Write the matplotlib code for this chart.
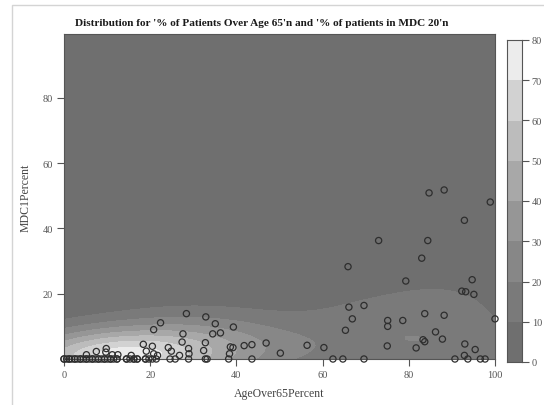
import numpy as np
import matplotlib
matplotlib.use("Agg")
import matplotlib.pyplot as plt
from matplotlib.patches import Rectangle

# Observations: share of patients over age 65 (x) and share of patients in MDC 20 (y)
# (several facilities share the same value on the zero row, hence repeated entries)
age_over65 = [
    0, 0.6, 1.2, 1.8, 2.5, 3.1, 3.8, 4.5, 5.2, 5.9, 6.6, 7.3, 8.0, 8.7, 9.4, 10.1,
    10.8, 11.5, 12.3, 14.5, 15.3, 16.2, 17.0, 18.9, 19.7, 20.5, 21.4, 24.6, 25.8,
    28.9, 32.8, 33.2, 38.2, 43.6, 62.4, 64.7, 69.6, 90.7, 93.7, 96.6, 97.7,
    0, 1.2, 2.5, 3.8, 5.2, 6.6, 8.0, 9.4, 10.8, 12.3, 14.5, 16.2, 17.0, 18.9,
    5.2, 7.5, 9.8, 9.7, 11.2, 12.5, 15.6, 18.4, 20.5, 19.1, 20.8, 21.7, 22.4, 20.8,
    24.2, 24.9, 26.8, 28.4, 32.9, 35.1, 39.3, 27.6, 34.5, 36.3, 27.4, 32.8, 38.6,
    39.2, 41.8, 43.6, 46.9, 50.2, 28.9, 29.0, 32.4, 38.4,
    65.3, 66.1, 69.6, 66.9, 56.4, 60.3, 73.0, 65.9, 75.1, 75.1, 78.6, 83.7, 88.2,
    100.0, 86.2, 87.8, 83.3, 83.7, 75.0, 81.7, 93.0, 95.4, 92.9, 92.3, 93.2, 95.1,
    79.3, 94.7, 83.0, 84.4, 92.9, 98.9, 84.7, 88.2,
]
mdc20 = [
    0, 0, 0, 0, 0, 0, 0, 0, 0, 0, 0, 0, 0, 0, 0, 0,
    0, 0, 0, 0, 0, 0, 0, 0, 0, 0, 0, 0, 0,
    0, 0, 0, 0, 0, 0, 0, 0, 0, 0, 0, 0,
    0, 0, 0, 0, 0, 0, 0, 0, 0, 0, 0, 0, 0, 0,
    1.3, 2.3, 3.2, 2.1, 1.3, 1.3, 1.1, 4.5, 3.9, 2.4, 1.6, 1.1, 11.1, 9.0,
    3.5, 2.4, 1.1, 13.9, 12.9, 10.8, 9.8, 7.7, 7.7, 8.0, 5.2, 5.0, 3.7,
    3.5, 4.1, 4.4, 4.9, 1.8, 3.2, 1.6, 2.6, 1.6,
    8.8, 15.9, 16.4, 12.3, 4.2, 3.5, 36.3, 28.3, 11.8, 10.0, 11.8, 13.9, 13.4,
    12.3, 8.3, 6.1, 5.9, 5.3, 4.0, 3.4, 4.6, 2.9, 1.1, 20.8, 20.6, 19.8,
    23.9, 24.3, 30.9, 36.3, 42.5, 48.1, 50.9, 51.8,
]
levels = [0, 10, 20, 30, 40, 50, 60, 70, 80]
band_colors = ['#6f6f6f', '#7a7a7a', '#878787', '#969696', '#a8a8a8',
               '#bcbcbc', '#d2d2d2', '#ececec']
x_ticks = [0, 20, 40, 60, 80, 100]
y_ticks = [20, 40, 60, 80]

x = np.asarray(age_over65, float)
y = np.asarray(mdc20, float)

# 2-D Gaussian kernel density estimate on a regular grid
kernel_sd_x = 14.0
kernel_sd_y = 6.0
gx = np.linspace(0, 100, 150)
gy = np.linspace(0, 100, 150)
kx = np.exp(-0.5 * ((gx[:, None] - x[None, :]) / kernel_sd_x) ** 2)
ky = np.exp(-0.5 * ((gy[:, None] - y[None, :]) / kernel_sd_y) ** 2)
dens = ky @ kx.T
z = dens / dens.max() * 76

serif = ['Liberation Serif', 'DejaVu Serif']
tick_col = '#555555'

fig = plt.figure(figsize=(5.44, 4.06), dpi=100)
fig.patch.set_facecolor('white')
fig.patches.append(Rectangle((12 / 544, -0.2), 1.5, 0.2 + (406 - 6) / 406,
                             transform=fig.transFigure, fill=False,
                             edgecolor='#d4d4d4', lw=1.0))

ax = fig.add_axes([64 / 544, 46 / 406, 431 / 544, 325 / 406])
ax.contourf(gx, gy, z, levels=levels, colors=band_colors)
ax.scatter(x, y, s=20, facecolors='none', edgecolors='#2e2e2e',
           linewidths=0.9, clip_on=False, zorder=3)
ax.set_xlim(0, 100)
ax.set_ylim(0, 99.6)
ax.set_xticks(x_ticks)
ax.set_yticks(y_ticks)
for lab in ax.get_xticklabels() + ax.get_yticklabels():
    lab.set_family(serif)
ax.tick_params(direction='out', length=5, width=0.8, colors=tick_col,
               labelsize=7.5, pad=3)
for sp in ax.spines.values():
    sp.set_color('#555555')
    sp.set_linewidth(0.8)
ax.set_xlabel('AgeOver65Percent', family=serif, fontsize=8.5, color='#444444',
              labelpad=6)
ax.set_ylabel('MDC1Percent', family=serif, fontsize=8.5, color='#444444',
              labelpad=8)

cax = fig.add_axes([507 / 544, 43 / 406, 15 / 544, 322 / 406])
for lo, hi, c in zip(levels[:-1], levels[1:], band_colors):
    cax.axhspan(lo, hi, color=c, lw=0)
cax.set_ylim(0, 80)
cax.set_xlim(0, 1)
cax.set_xticks([])
cax.yaxis.tick_right()
cax.set_yticks(levels)
for lab in cax.get_yticklabels():
    lab.set_family(serif)
cax.tick_params(direction='out', length=5, width=0.8, colors=tick_col,
                labelsize=7.5, pad=2)
for sp in cax.spines.values():
    sp.set_color('#555555')
    sp.set_linewidth(0.8)

fig.text(262 / 544, 1 - 24 / 406,
         "Distribution for '% of Patients Over Age 65'n and '% of patients in MDC 20'n",
         ha='center', va='center', fontsize=8.1, fontweight='bold',
         family=serif, color='#1a1a1a')

fig.savefig('out.png', dpi=100)
